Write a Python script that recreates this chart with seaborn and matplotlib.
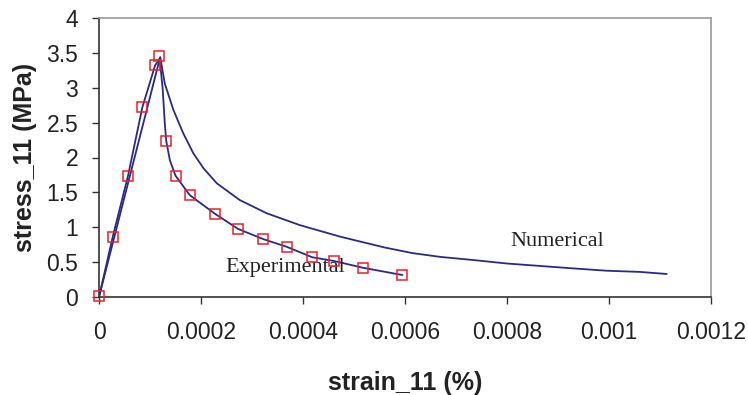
import matplotlib
matplotlib.use("Agg")
import matplotlib.pyplot as plt
import seaborn as sns
import pandas as pd

# Experimental markers
exp_x = [0.0, 0.000027, 0.000057, 0.000085, 0.000110, 0.000118, 0.000132, 0.000150,
         0.000178, 0.000228, 0.000273, 0.000322, 0.000368, 0.000418, 0.000461,
         0.000517, 0.000595]
exp_y = [0.02, 0.865, 1.74, 2.72, 3.32, 3.45, 2.23, 1.74,
         1.46, 1.19, 0.975, 0.83, 0.72, 0.57, 0.516,
         0.42, 0.315]

# Experimental curve (through markers)
expl_x = [0.0, 0.000027, 0.000057, 0.000085, 0.000110, 0.000119, 0.000125, 0.000129,
          0.000132, 0.000139, 0.000150, 0.000178, 0.000228, 0.000273, 0.000322,
          0.000368, 0.000418, 0.000461, 0.000517, 0.000595]
expl_y = [0.0, 0.865, 1.74, 2.72, 3.32, 3.42, 2.97, 2.49,
          2.23, 1.96, 1.74, 1.46, 1.19, 0.975, 0.83,
          0.72, 0.57, 0.516, 0.42, 0.315]

# Numerical curve
num_x = [0.0, 0.000120, 0.000129, 0.000146, 0.000165, 0.000185, 0.000205, 0.000231,
         0.000276, 0.000329, 0.000394, 0.000473, 0.000560, 0.000614, 0.000669,
         0.000734, 0.0008, 0.000865, 0.00093, 0.000995, 0.00106, 0.001113]
num_y = [0.0, 3.44, 3.06, 2.68, 2.35, 2.06, 1.845, 1.63,
         1.39, 1.20, 1.03, 0.865, 0.71, 0.63, 0.575,
         0.53, 0.48, 0.445, 0.41, 0.377, 0.36, 0.33]

x_ticks = [0, 0.0002, 0.0004, 0.0006, 0.0008, 0.001, 0.0012]
x_tick_labels = ["0", "0.0002", "0.0004", "0.0006", "0.0008", "0.001", "0.0012"]
y_ticks = [0, 0.5, 1, 1.5, 2, 2.5, 3, 3.5, 4]
y_tick_labels = ["0", "0.5", "1", "1.5", "2", "2.5", "3", "3.5", "4"]

sns.set_style("white")
plt.rcParams['font.family'] = ['Liberation Sans', 'DejaVu Sans']

fig = plt.figure(figsize=(7.48, 3.95), dpi=100)
ax = fig.add_axes([99/748, 1 - 297/395, (711 - 99)/748, (297 - 18)/395])

line_color = "#2A2A86"
num_df = pd.DataFrame({"x": num_x, "y": num_y})
expl_df = pd.DataFrame({"x": expl_x, "y": expl_y})
exp_df = pd.DataFrame({"x": exp_x, "y": exp_y})

sns.lineplot(data=num_df, x="x", y="y", sort=False, ax=ax, color=line_color, lw=1.3)
sns.lineplot(data=expl_df, x="x", y="y", sort=False, ax=ax, color=line_color, lw=1.3)
ax.plot(exp_df["x"], exp_df["y"], ls="none", marker="s", markersize=6.5,
        markerfacecolor="none", markeredgecolor="#E8202A", markeredgewidth=1.1, zorder=5,
        clip_on=False)

ax.set_xlim(0, 0.0012)
ax.set_ylim(0, 4)
ax.set_xticks(x_ticks)
ax.set_xticklabels(x_tick_labels)
ax.set_yticks(y_ticks)
ax.set_yticklabels(y_tick_labels)
ax.tick_params(axis="both", direction="out", length=5, width=1, color="#333333",
               labelsize=16.5, labelcolor="#222222")
ax.tick_params(axis="x", pad=12, bottom=True)
ax.tick_params(axis="y", pad=10, left=True)

for s in ["top", "right"]:
    ax.spines[s].set_color("#999999")
    ax.spines[s].set_linewidth(1.2)
for s in ["left", "bottom"]:
    ax.spines[s].set_color("#333333")
    ax.spines[s].set_linewidth(1.2)

ax.set_xlabel("strain_11 (%)", fontsize=18, fontweight="bold", color="#222222", labelpad=20)
ax.set_ylabel("stress_11 (MPa)", fontsize=18, fontweight="bold", color="#222222", labelpad=7)

ax.text(0.000899, 0.79, "Numerical", fontsize=16, family="Liberation Serif",
        color="#222222", ha="center", va="center")
ax.text(0.000365, 0.43, "Experimental", fontsize=16, family="Liberation Serif",
        color="#222222", ha="center", va="center")

fig.savefig("out.png", dpi=100)
